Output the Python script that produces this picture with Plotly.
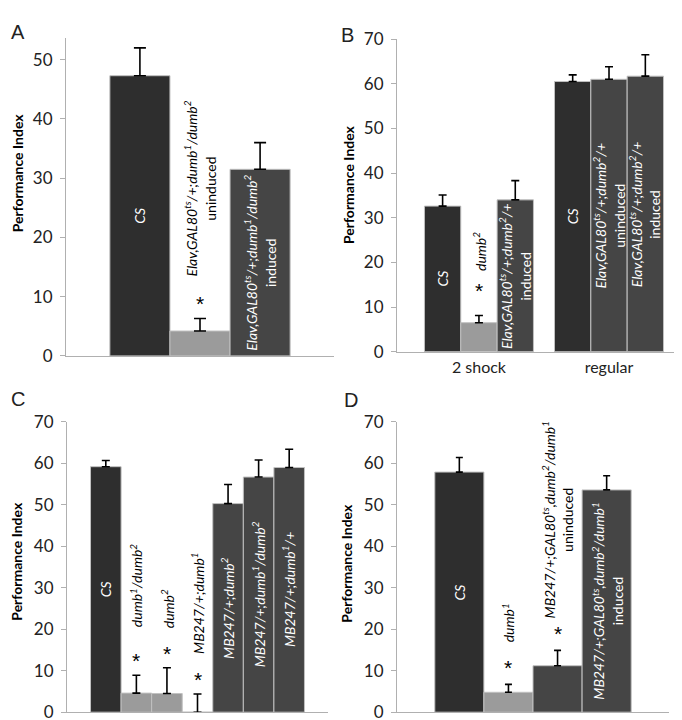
import plotly.graph_objects as go

W, H = 682, 720
FONT = "Lato"

# ---------------- data ----------------
# Panel A
a_cats = ["CS", "Elav uninduced", "Elav induced"]
a_vals = [47.3, 4.2, 31.5]
a_errs = [4.7, 2.1, 4.5]
a_sig = [False, True, False]

# Panel B (grouped)
b_groups = ["2 shock", "regular"]
b_series = ["CS", "dumb2 / Elav uninduced", "Elav induced"]
b_vals = [[32.6, 60.5], [6.5, 61.0], [34.0, 61.7]]
b_errs = [[2.5, 1.5], [1.6, 2.8], [4.3, 4.8]]
b_sig = [[False, False], [True, False], [False, False]]

# Panel C
c_cats = ["CS", "dumb1/dumb2", "dumb2", "MB247/+;dumb1", "MB247/+;dumb2",
          "MB247/+;dumb1/dumb2", "MB247/+;dumb1/+"]
c_vals = [59.2, 4.6, 4.5, 0.0, 50.3, 56.7, 59.0]
c_errs = [1.5, 4.3, 6.2, 4.4, 4.6, 4.1, 4.4]
c_sig = [False, True, True, True, False, False, False]

# Panel D
d_cats = ["CS", "dumb1", "MB247 uninduced", "MB247 induced"]
d_vals = [57.9, 4.8, 11.2, 53.6]
d_errs = [3.5, 1.9, 3.7, 3.4]
d_sig = [False, True, True, False]

# ---------------- labels ----------------
ELAV12 = "<i>Elav,GAL80<sup>ts</sup>/+;dumb<sup>1</sup>/dumb<sup>2</sup></i>"
ELAV2 = "<i>Elav,GAL80<sup>ts</sup>/+;dumb<sup>2</sup>/+</i>"
MBG = "<i>MB247/+;GAL80<sup>ts</sup>,dumb<sup>2</sup>/dumb<sup>1</sup></i>"

a_labels = ["<i>CS</i>", ELAV12 + "<br>uninduced", ELAV12 + "<br>induced"]
b_labels = [["<i>CS</i>", "<i>CS</i>"],
            ["<i>dumb<sup>2</sup></i>", ELAV2 + "<br>uninduced"],
            [ELAV2 + "<br>induced", ELAV2 + "<br>induced"]]
c_labels = ["<i>CS</i>", "<i>dumb<sup>1</sup>/dumb<sup>2</sup></i>", "<i>dumb<sup>2</sup></i>",
            "<i>MB247/+;dumb<sup>1</sup></i>", "<i>MB247/+;dumb<sup>2</sup></i>",
            "<i>MB247/+;dumb<sup>1</sup>/dumb<sup>2</sup></i>", "<i>MB247/+;dumb<sup>1</sup>/+</i>"]
d_labels = ["<i>CS</i>", "<i>dumb<sup>1</sup></i>", MBG + "<br>uninduced", MBG + "<br>induced"]

# ---------------- styles ----------------
C_CS = "#2e2e2e"
C_LIGHT = "#9b9b9b"
C_DARK = "#454545"
EDGE = "#c0c0c0"
AXIS = "#b0b0b0"

a_cols = [C_CS, C_LIGHT, C_DARK]
b_cols = [[C_CS, C_CS], [C_LIGHT, C_DARK], [C_DARK, C_DARK]]
c_cols = [C_CS, C_LIGHT, C_LIGHT, C_LIGHT, C_DARK, C_DARK, C_DARK]
d_cols = [C_CS, C_LIGHT, C_DARK, C_DARK]
# label placement: True = inside bar (white), False = above bar (black)
a_in = [True, False, True]
b_in = [[True, True], [False, True], [True, True]]
c_in = [True, False, False, False, True, True, True]
d_in = [True, False, False, True]
# pixel lift of above-bar labels over the error bar top
a_lift = [0, 40, 0]
c_lift = [0, 46, 38, 38, 0, 0, 0]
d_lift = [0, 40, 30, 0]

BARGAP_B = 0.162
LABEL_SIZE = 14


def px_x(p):
    return p / W


def px_y(p):
    return 1 - p / H


fig = go.Figure()


def err(errs, w):
    return dict(type="data", array=errs, arrayminus=[0] * len(errs), symmetric=False,
                color="black", thickness=1.6, width=w, visible=True)


def add_single(cats, vals, errs, cols, xa, ya, capw):
    fig.add_trace(go.Bar(x=list(range(len(cats))), y=vals, width=1,
                         marker=dict(color=cols, line=dict(color=EDGE, width=1)),
                         error_y=err(errs, capw), xaxis=xa, yaxis=ya,
                         hovertext=cats, showlegend=False))


add_single(a_cats, a_vals, a_errs, a_cols, "x", "y", 6)
for i, name in enumerate(b_series):
    fig.add_trace(go.Bar(x=b_groups, y=b_vals[i], name=name,
                         marker=dict(color=b_cols[i], line=dict(color=EDGE, width=1)),
                         error_y=err(b_errs[i], 4), xaxis="x2", yaxis="y2", showlegend=False))
add_single(c_cats, c_vals, c_errs, c_cols, "x3", "y3", 4)
add_single(d_cats, d_vals, d_errs, d_cols, "x4", "y4", 3.5)

annotations = []


def label(xr, yr, x, val, e, text, inside, lift_star, lift_lab, sig):
    if inside:
        annotations.append(dict(xref=xr, yref=yr, x=x, y=val / 2, text=text, showarrow=False,
                                textangle=-90, xanchor="center", yanchor="middle",
                                font=dict(family=FONT, size=LABEL_SIZE, color="white")))
    else:
        annotations.append(dict(xref=xr, yref=yr, x=x, y=val + e, text=text, showarrow=False,
                                textangle=-90, xanchor="center", yanchor="bottom",
                                yshift=lift_lab,
                                font=dict(family=FONT, size=LABEL_SIZE, color="black")))
    if sig:
        annotations.append(dict(xref=xr, yref=yr, x=x, y=val + e, text="*", showarrow=False,
                                xanchor="center", yanchor="bottom", yshift=lift_star,
                                font=dict(family="Liberation Sans", size=21, color="#000000")))


for i in range(len(a_cats)):
    label("x", "y", i, a_vals[i], a_errs[i], a_labels[i], a_in[i], 2, a_lift[i], a_sig[i])
bw = (1 - BARGAP_B) / 3
for i in range(3):
    for j in range(2):
        label("x2", "y2", j + (i - 1) * bw, b_vals[i][j], b_errs[i][j], b_labels[i][j],
              b_in[i][j], 12, 43, b_sig[i][j])
for i in range(len(c_cats)):
    label("x3", "y3", i, c_vals[i], c_errs[i], c_labels[i], c_in[i], 1, c_lift[i], c_sig[i])
for i in range(len(d_cats)):
    label("x4", "y4", i, d_vals[i], d_errs[i], d_labels[i], d_in[i], 3, d_lift[i], d_sig[i])

# panel letters
for txt, x, y in [("A", 1, 13), ("B", 331, 16), ("C", 1, 391), ("D", 334, 392)]:
    annotations.append(dict(xref="paper", yref="paper", x=px_x(x), y=px_y(y), text=txt,
                            showarrow=False, xanchor="left", yanchor="middle",
                            font=dict(family="Liberation Sans", size=20, color="#222")))
# y-axis titles
for x, y in [(9, 159), (340, 171), (9, 559), (339, 561)]:
    annotations.append(dict(xref="paper", yref="paper", x=px_x(x), y=px_y(y),
                            text="<b>Performance Index</b>", showarrow=False, textangle=-90,
                            xanchor="center", yanchor="middle",
                            font=dict(family=FONT, size=14, color="black")))

tickfont = dict(family=FONT, size=17, color="#222")


def xax(l, r, rng, **kw):
    d = dict(domain=[px_x(l), px_x(r)], range=rng, type="category", showline=True,
             linecolor=AXIS, linewidth=1, showgrid=False, zeroline=False, ticks="",
             showticklabels=False, fixedrange=True)
    d.update(kw)
    return d


def yax(b, t, rng, anchor):
    return dict(domain=[px_y(b), px_y(t)], range=rng, anchor=anchor, showline=True,
                linecolor=AXIS, linewidth=1, showgrid=False, zeroline=False, dtick=10,
                ticks="outside", ticklen=5, tickcolor=AXIS, tickfont=tickfont,
                ticklabelstandoff=4)


fig.update_layout(
    width=W, height=H, margin=dict(l=0, r=0, t=0, b=0),
    paper_bgcolor="white", plot_bgcolor="white",
    barmode="group", bargap=BARGAP_B, bargroupgap=0,
    showlegend=False,
    xaxis=xax(58, 326, [-1.23, 3.23], anchor="y"),
    yaxis=yax(347, 20, [0, 53.6], "x"),
    xaxis2=xax(389, 681, [-0.63, 1.615], anchor="y2", showticklabels=True,
               tickfont=dict(family=FONT, size=16, color="#222"), ticklabelstandoff=1),
    yaxis2=yax(342.7, 20.7, [0, 70], "x2"),
    xaxis3=xax(59, 320, [-1.27, 7.27], anchor="y3"),
    yaxis3=yax(714, 415, [0, 70], "x3"),
    xaxis4=xax(389, 661, [-1.27, 4.27], anchor="y4"),
    yaxis4=yax(714, 415, [0, 70], "x4"),
    annotations=annotations,
)

fig.write_html("out.html")
